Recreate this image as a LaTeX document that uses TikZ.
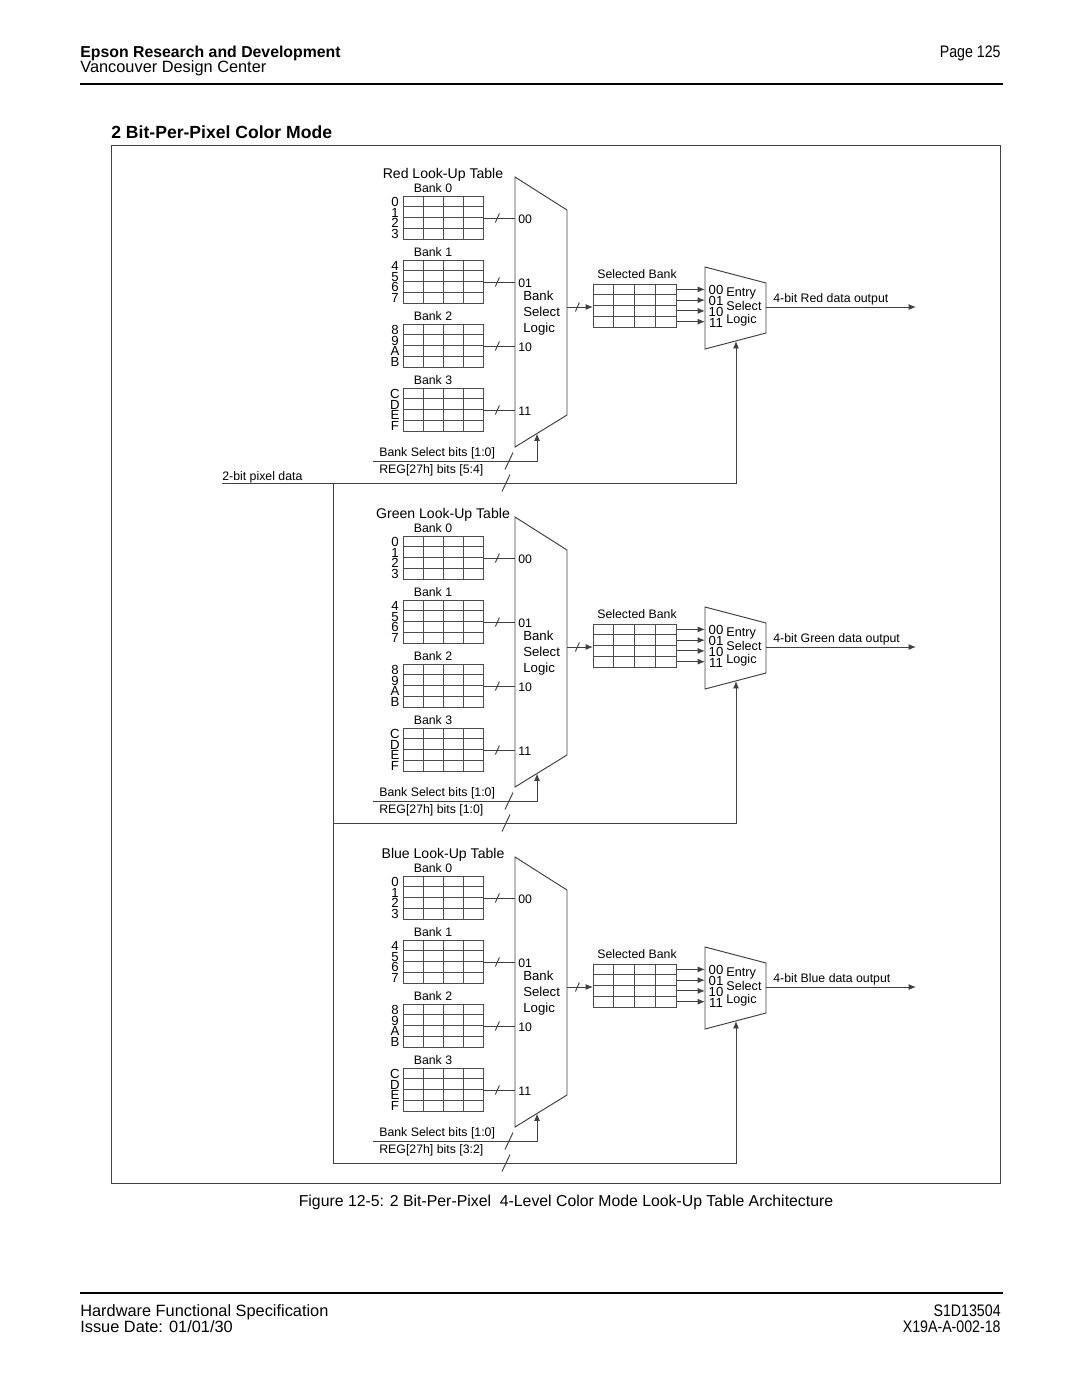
\documentclass[tikz,border=0pt]{standalone}
\usepackage{fontspec}
\setmainfont{Liberation Sans}
\newfontfamily\narrowfont[FakeStretch=0.85]{Liberation Sans}
\usetikzlibrary{calc,arrows.meta}

\tikzset{
  wire/.style={draw=black!75,line width=0.55pt},
  arr/.style={wire,-{Latex[length=4.2pt,width=3.4pt]}},
  tbl/.style={draw=black!70,line width=0.5pt},
  small/.style={font=\fontsize{7}{8.5}\selectfont,inner sep=0pt},
  digit/.style={font=\fontsize{7.5}{8}\selectfont,inner sep=0pt},
  ttl/.style={font=\fontsize{8}{9.6}\selectfont,inner sep=0pt},
  hdr/.style={font=\fontsize{9.3}{11}\selectfont,inner sep=0pt},
  hdrn/.style={font=\fontsize{9.5}{11}\narrowfont,inner sep=0pt},
  slash/.pic={\draw[wire] (-2,4.5) -- (2,-4.5);},
  bigslash/.pic={\draw[wire] (-4,8.5) -- (4,-8.5);},
}

\begin{document}
\begin{tikzpicture}[x=0.5688pt,y=-0.5688pt]
  \useasboundingbox (0,0) rectangle (1080,1397);

  % header
  \node[hdr,font=\fontsize{9}{11}\bfseries,anchor=base west] (co) at (80,57) {Epson Research and Development};
  \node[hdr,anchor=base west] (ctr) at (80,72) {Vancouver Design Center};
  \node[hdrn,anchor=base east] (pg) at (1001,57) {Page 125};
  \draw[line width=1.3pt] (80,84) -- (1003,84);
  \node[font=\fontsize{10}{12}\bfseries\selectfont,inner sep=0pt,anchor=base west] (sec) at (111,138) {2 Bit-Per-Pixel Color Mode};
  \draw[wire] (111,145) rectangle (1000,1183);

  % pixel bus
  \node[small,anchor=base west] (pix) at (222,480) {2-bit pixel data};
  \coordinate (trunk) at (333,483);
  \coordinate (trunkend) at (333,1163);
  \draw[wire] (pix.base west |- trunk) -- (trunk) -- (trunkend);

  \foreach \col/\dy/\bits in {Red/0/{5:4},Green/340/{1:0},Blue/680/{3:2}} {
    \begin{scope}[shift={(0,\dy)}]
      \node[ttl] (lut-\col) at (443,175) {\col\ Look-Up Table};

      % four banks into the bank select mux
      \foreach \b/\top/\labs/\sel in {0/196/{0,1,2,3}/00,1/260/{4,5,6,7}/01,2/324/{8,9,A,B}/10,3/388/{C,D,E,F}/11} {
        \node[small] (bank\b-\col) at (433,\top-8) {Bank \b};
        \draw[tbl] (403,\top) rectangle (483,\top+43);
        \foreach \k in {1,2,3} {
          \draw[tbl] (403,\top+\k*10.75) -- (483,\top+\k*10.75);
          \draw[tbl] (403+\k*20,\top) -- (403+\k*20,\top+43);
        }
        \foreach \l [count=\r from 0] in \labs
          \node[digit] (row\l-\col) at (395,\top+5.8+\r*10.75) {\l};
        \coordinate (out\b-\col) at (483,\top+22);
        \coordinate (in\b-\col) at (515,\top+22);
        \draw[wire] (out\b-\col) -- (in\b-\col);
        \pic at ($(out\b-\col)!.45!(in\b-\col)$) {slash};
        \node[small,anchor=west] (sel\b-\col) at (518,\top+23) {\sel};
      }

      \draw[wire] (515,177) -- (567,210) -- (567,415) -- (515,447) -- cycle;
      \node[small,font=\fontsize{7.5}{9.1}\selectfont,align=left,anchor=west] (bsl-\col) at (523,313) {Bank\\Select\\Logic};

      % bank select bits
      \node[small,anchor=base west] (bsb-\col) at (379,456) {Bank Select bits [1:0]};
      \node[small,anchor=base west] (reg-\col) at (379,473) {REG[27h] bits [\bits]};
      \coordinate (bs-\col) at (373,461);
      \coordinate (bsm-\col) at (537,433.5);
      \draw[arr] (bs-\col) -| (bsm-\col);
      \pic at (509,461) {bigslash};

      % selected bank
      \coordinate (mo-\col) at (567,307);
      \coordinate (sb-\col) at (593,307);
      \draw[arr] (mo-\col) -- (sb-\col);
      \pic at ($(mo-\col)!.4!(sb-\col)$) {slash};
      \node[small] (sbl-\col) at (637,274) {Selected Bank};
      \draw[tbl] (593,284) rectangle (676,327);
      \foreach \k in {1,2,3} {
        \draw[tbl] (593,284+\k*10.75) -- (676,284+\k*10.75);
        \draw[tbl] (593+\k*20.75,284) -- (593+\k*20.75,327);
      }

      % entry select logic
      \draw[wire] (705,267) -- (766,283) -- (766,333) -- (705,349) -- cycle;
      \foreach \e [count=\k from 0] in {00,01,10,11} {
        \coordinate (r\k-\col) at (677,289.4+\k*10.75);
        \coordinate (e\k-\col) at (705,289.4+\k*10.75);
        \draw[arr] (r\k-\col) -- (e\k-\col);
        \node[digit] (esl\e-\col) at (716,290.4+\k*10.75) {\e};
      }
      \node[small,font=\fontsize{7.2}{7.7}\selectfont,align=left,anchor=west] (esw-\col) at (726,307) {Entry\\Select\\Logic};

      % output and pixel data tap
      \coordinate (eo-\col) at (766,307);
      \coordinate (dout-\col) at (916,307);
      \draw[arr] (eo-\col) -- (dout-\col);
      \node[small,anchor=base west] (outl-\col) at (773,302) {4-bit \col\ data output};
      \coordinate (tap-\col) at (333,483);
      \coordinate (esb-\col) at (736,341);
      \draw[arr] (tap-\col) -| (esb-\col);
      \pic at (506,483) {bigslash};
    \end{scope}
  }

  % caption and footer
  \node[font=\fontsize{9}{11}\selectfont,inner sep=0pt] (cap) at (566,1202) {Figure 12-5: 2 Bit-Per-Pixel\ \ 4-Level Color Mode Look-Up Table Architecture};
  \draw[line width=1.3pt] (80,1293) -- (1003,1293);
  \node[hdr,anchor=base west] (spec) at (80,1316) {Hardware Functional Specification};
  \node[hdr,anchor=base west] (date) at (80,1332) {Issue Date: 01/01/30};
  \node[hdrn,anchor=base east] (part) at (1001,1316) {S1D13504};
  \node[hdrn,anchor=base east] (doc) at (1001,1332) {X19A-A-002-18};
\end{tikzpicture}
\end{document}
